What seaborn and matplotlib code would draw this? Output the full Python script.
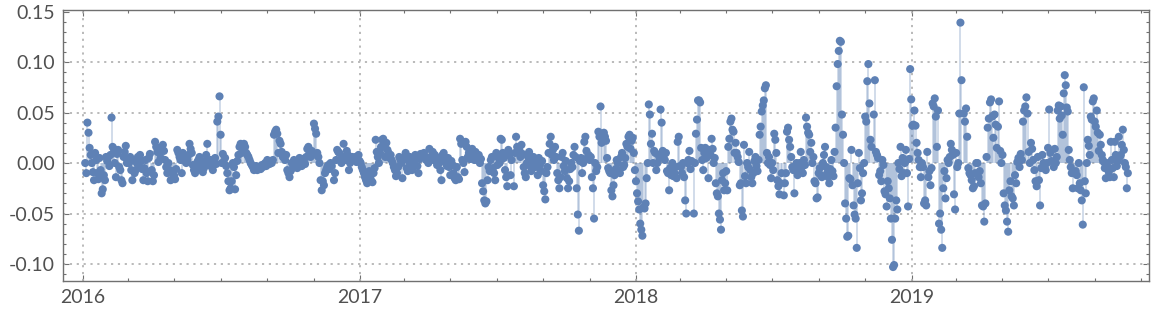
import numpy as np
import pandas as pd
import matplotlib
matplotlib.use("Agg")
import matplotlib.pyplot as plt
import matplotlib.dates as mdates
from matplotlib.ticker import MultipleLocator, FormatStrFormatter
import seaborn as sns

# daily returns, in thousandths
seg_a = [0, -10, 40, 30, 15, 8, 0, -9, -17, 10, 3, -10, -16, 5, -7, -30, -26, -12, -17, 6,
         2, 6, -3, 8, 45, 16, 14, 0, -14, 9, 13, -4, -7, -17, -20, 6, 11, 17, 0, 3,
         0, 6, -7, -17, 3, -10, -7, 0, 6, -3, 8, 2, -6, -17, -5, 3, -10, -18, 5, 9, -8]
seg_b = [-7, -18, -12, 21, 16, 11, 1, 10, 5, 14, 18, 12, 3, -4, -10, 0, -7, -17, -10, -8,
         -12, -16, -6, 13, 10, 6, 3, -10, 10, 8, 2, 0, 3, 8, 19, 14, 10, -2, -7, -10,
         -4, 1, 3, 6, -2, -7, -9, -5, 2, 8, 19, -2, 0, 3, -4, -7, 2, 5, -1, 41,
         46, 66, 28, 0, 9, 0, 5, -3, -10, -18, -27, -25, -18, 0, -4, -26, -12, 2, 8, 16, 19, 10]
seg_c = [19, 16, 10, 8, 6, 3, 0, -2, -4, -7, -5, -3, -7, -5, -4, -6, -2, -4, -2, 0,
         -3, 3, 1, -1, 2, 0, 3, 28, 31, 33, 29, 10, 22, 19, 11, 6, 6, 3, 8, -7,
         -10, -14, -8, 0, -5, 3, 1, -2, -5, 0, 5, 2, -3, 4, 1, -1, 6, 14, 16, 10,
         6, 12, 8, 39, 34, 29, 10, 6, 0, -17, -27, -18, -22, -10, -7, -4, -2, -6, 0, -3]
seg_d = [-17, -10, 3, 13, 11, 10, 3, 0, 6, 19, 6, 3, 12, 8, -7, 0, 3, 6, 5, 3,
         6, 1, 4, 8, 2, 0, -4, -7, -10, -14, -17, -20, -12, -8, -15, -18, -19, -10, -5, 23,
         11, 6, 0, 10, 16, 23, 24, 16, 6, 20, 13, 10, 5, 8, 3, 0, -4, -7, -13, -10,
         -4, 6, 3, 0, -15, 3, 6, 10, -5, -8, 2, 6, -2, -7, 0, 3, 8, 5, -3, -10, 4, 9, 6]
seg_e = [10, 6, 3, 3, 0, 14, 6, 3, 11, 6, 8, 2, -2, 5, 0, -7, -17, 8, 10, 3,
         0, -3, 5, -4, -12, 2, -2, -10, -15, -17, -4, -14, -16, 24, 19, 3, 0, -9, 21, 16,
         6, 10, 4, 8, 14, 6, 3, 11, 6, 3, 8, 0, 4, -20, -28, -37, -40, -38, -17, -4,
         -8, 3, 6, -5, -10, -17, 10, -2, 5, 0, 24, 23, 10, 5, -7, -14, -23, 13, 8, -12, 3]
seg_f = [-23, 10, 26, 16, 10, 13, 6, 18, 9, -4, -10, -14, 0, 6, 11, -3, -8, 3, 6, 3,
         -4, 0, -12, 5, -2, -8, 2, -22, -28, -36, -10, -4, 10, 19, 26, 8, 13, 3, 16, 6,
         -10, -17, -25, -14, 6, 10, -3, -8, 2, -15, -25, -18, -6, 0, -4, 8, 16, 6, -25, -51,
         -67, 2, 5, -10, 0, 21, 26, 12, 5, 8, 3, 6, -14, -25, -55, 0, -8, -4, 31, 26, 56, 20]
seg_g = [30, 26, 22, 5, -5, -8, -10, -27, -33, -22, -12, -6, 3, 0, -8, -10, 6, 10, -4, -2,
         5, 19, 16, 26, 28, 14, 22, 25, 10, -7, -18, -30, -38, -46, -60, -66, -72, -44, -45, -40,
         -15, 0, 58, 48, 19, 29, 0, 12, 10, -7, 0, 8, 5, 53, 40, 12, 8, 3, 10, -8,
         -10, -27, -5, -12, 0, -13, -10, -4, -15, 21, 26, -3, -4, -10, 0, -14, -37, -50, 0, 3, 12, -6, 2]
seg_h = [-50, 0, 29, 43, 62, 62, 60, 15, 3, -7, 10, 15, 5, 10, -15, 13, 8, 24, 14, 0,
         5, -20, -30, -33, -50, -56, -66, -17, -10, -27, -20, -8, -27, 16, 24, 41, 44, 33, 31, 10,
         20, 10, 6, 1, -22, -20, -47, -53, 18, -13, -20, 0, -4, 11, -7, -14, -20, -10, 2, 6,
         -3, -8, 3, 28, 36, 51, 57, 62, 74, 77, 10, 0, 6, -2, -15, 0, -7, 29, 23, 10, -17, -23, -31, -20, -10]
seg_i = [-32, -20, -10, 31, 35, 23, 16, 6, -4, -7, -30, -3, 0, -12, -7, 0, 11, -4, -10, 3,
         -2, 45, 36, 30, 28, 11, 20, 0, 6, -18, -20, -35, -34, -10, -5, -12, -14, 0, 8, 16,
         -4, -10, -14, -20, -6, 3, -8, -13, 11, 35, 76, 98, 111, 121, 120, 48, 28, 0, -40, -55,
         -73, -72, -15, -16, 13, -22, -42, -51, -55, -84, -20, 10, -5, -37, -30, -10, 0, 46, 41, 81, 98, 59, 23, 16]
seg_j = [48, 82, 11, 8, 5, -12, -8, -18, 3, -2, -28, -31, -43, -18, -25, -35, -55, -76, -103, -101,
         -55, -37, -46, 0, -6, 16, -13, 5, -10, 0, 13, -10, -43, 4, 93, 63, 37, 38, 52, 37,
         20, 10, 3, -4, -14, 0, -4, -40, -37, -42, 11, -14, -8, -22, -5, 59, 56, 64, 46, 16,
         52, -60, -50, -66, -84, -25, -8, -35, -15, 3, 0, 6, 19, 13, 8, -31, -46, 10, -4, 0, 49, 139, 82]
seg_k = [49, 41, 54, 26, -5, -10, -12, -17, -25, -23, -10, 0, 0, -14, -8, -20, -42, -43, -58, -40,
         6, 35, 44, 60, 63, 46, 25, 48, 38, 15, 36, 61, 12, 0, 8, -30, -42, -47, -58, -68,
         -27, -18, -33, -35, -42, -12, -20, 1, 5, -4, 9, 3, 41, 52, 56, 65, 49, 11, 0, 20,
         14, 3, -7, -18, -23, 6, -17, -42, -5, 8, 0, -4, -7, 0, 15, 53, 10, 2]
seg_l = [-4, 14, 0, 6, 52, 57, 44, 56, 47, 28, 69, 87, 77, 55, 51, 13, 3, -4, -10, -25,
         -10, -10, -8, -12, -25, 0, -20, -27, -37, -61, 75, -18, -30, 0, 23, 17, 8, 46, 43, 61,
         64, 41, 36, 52, 30, 12, 28, 18, 8, 3, 1, -5, -15, 0, -4, -9, -14, 21, 3, -5,
         -14, 21, 8, -3, 2, 26, 6, 8, 18, 33, 13, 0, -4, -25, -10]

segments = [
    ("2016-01-04", "2016-03-31", seg_a),
    ("2016-04-01", "2016-07-29", seg_b),
    ("2016-08-01", "2016-11-25", seg_c),
    ("2016-11-28", "2017-03-24", seg_d),
    ("2017-03-27", "2017-07-21", seg_e),
    ("2017-07-24", "2017-11-17", seg_f),
    ("2017-11-20", "2018-03-16", seg_g),
    ("2018-03-19", "2018-07-13", seg_h),
    ("2018-07-16", "2018-11-09", seg_i),
    ("2018-11-12", "2019-03-08", seg_j),
    ("2019-03-11", "2019-07-05", seg_k),
    ("2019-07-08", "2019-10-14", seg_l),
]

frames = []
for start, end, vals in segments:
    d = pd.date_range(start, end, periods=len(vals))
    frames.append(pd.DataFrame({"date": d, "ret": np.array(vals, dtype=float) / 1000.0}))
df = pd.concat(frames, ignore_index=True)

sns.set_theme(style="ticks")
plt.rcParams["font.family"] = ["Lato", "DejaVu Sans"]
plt.rcParams["axes.unicode_minus"] = False

W, H = 1152, 312
fig = plt.figure(figsize=(W / 100, H / 100), dpi=100)
left, right, top, bottom = 63.3, 1149, 10, 281
ax = fig.add_axes([left / W, 1 - bottom / H, (right - left) / W, (bottom - top) / H])

color = "#5E81B5"
grid_c = "#b4b4b4"
for yv in [-0.10, -0.05, 0.0, 0.05, 0.10]:
    ax.axhline(yv, color=grid_c, lw=1.3, ls=(0, (1.2, 2.6)), zorder=1)
for yr in ["2016-01-01", "2017-01-01", "2018-01-01", "2019-01-01"]:
    ax.axvline(pd.Timestamp(yr), color=grid_c, lw=1.3, ls=(0, (1.2, 2.6)), zorder=1)

ax.vlines(df["date"], 0, df["ret"], color=color, alpha=0.3, lw=1.3, zorder=2)
sns.scatterplot(data=df, x="date", y="ret", color=color, s=34, edgecolor="none",
                linewidth=0, ax=ax, zorder=3, legend=False)

ax.set_xlim(pd.Timestamp("2015-12-06"), pd.Timestamp("2019-11-11"))
ax.set_ylim(-0.1168, 0.1515)
ax.set_xlabel("")
ax.set_ylabel("")

ax.xaxis.set_major_locator(mdates.YearLocator())
ax.xaxis.set_major_formatter(mdates.DateFormatter("%Y"))
ax.xaxis.set_minor_locator(mdates.MonthLocator(bymonth=[3, 5, 7, 9, 11]))
ax.yaxis.set_major_locator(MultipleLocator(0.05))
ax.yaxis.set_major_formatter(FormatStrFormatter("%.2f"))
ax.yaxis.set_minor_locator(MultipleLocator(0.01))

frame_c = "#707070"
for sp in ax.spines.values():
    sp.set_color(frame_c)
    sp.set_linewidth(1.0)
ax.tick_params(which="both", direction="in", top=True, right=True, color=frame_c,
               labelcolor="#505050", labelsize=14, width=0.8)
ax.tick_params(which="major", length=4.5, pad=6)
ax.tick_params(which="minor", length=2.5)

fig.savefig("out.png", dpi=100)
